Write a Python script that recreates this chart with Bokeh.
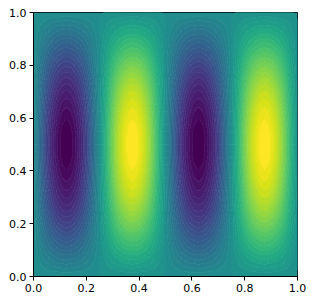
import numpy as np
from bokeh.plotting import figure
from bokeh.embed import file_html
from bokeh.resources import INLINE
from bokeh.palettes import Viridis256, linear_palette
from bokeh.models import PrintfTickFormatter

# Values: horizontal profile across a row (x = k/64)
x_profile = [0.0, -0.2, -0.38, -0.56, -0.71, -0.83, -0.92, -0.98,
             -1.0, -0.98, -0.92, -0.83, -0.71, -0.56, -0.38, -0.2,
             0.0, 0.2, 0.38, 0.56, 0.71, 0.83, 0.92, 0.98,
             1.0, 0.98, 0.92, 0.83, 0.71, 0.56, 0.38, 0.2,
             0.0, -0.2, -0.38, -0.56, -0.71, -0.83, -0.92, -0.98,
             -1.0, -0.98, -0.92, -0.83, -0.71, -0.56, -0.38, -0.2,
             0.0, 0.2, 0.38, 0.56, 0.71, 0.83, 0.92, 0.98,
             1.0, 0.98, 0.92, 0.83, 0.71, 0.56, 0.38, 0.2, 0.0]
# Vertical profile along a column (y = j/40)
y_profile = [0.0, 0.08, 0.16, 0.23, 0.31, 0.38, 0.45, 0.52, 0.59, 0.65,
             0.71, 0.76, 0.81, 0.85, 0.89, 0.92, 0.95, 0.97, 0.99, 1.0, 1.0,
             1.0, 0.99, 0.97, 0.95, 0.92, 0.89, 0.85, 0.81, 0.76, 0.71,
             0.65, 0.59, 0.52, 0.45, 0.38, 0.31, 0.23, 0.16, 0.08, 0.0]
x_ticks = [0.0, 0.2, 0.4, 0.6, 0.8, 1.0]
y_ticks = [0.0, 0.2, 0.4, 0.6, 0.8, 1.0]
n_bands = 40

xs = np.linspace(0, 1, len(x_profile))
ys = np.linspace(0, 1, len(y_profile))
field = np.outer(y_profile, x_profile)
levels = list(np.linspace(-1.0, 1.0, n_bands + 1))

p = figure(width=306, height=295, x_range=(0, 1), y_range=(0, 1),
           toolbar_location=None, output_backend="svg",
           min_border_left=33, min_border_right=9,
           min_border_top=12, min_border_bottom=19)
p.contour(xs, ys, field, levels=levels,
          fill_color=linear_palette(Viridis256, n_bands),
          line_color=linear_palette(Viridis256, n_bands + 1), line_width=1.0)
p.grid.visible = False
p.outline_line_color = "black"
p.outline_line_width = 1
for ax, ticks in ((p.xaxis, x_ticks), (p.yaxis, y_ticks)):
    ax.ticker = ticks
    ax.formatter = PrintfTickFormatter(format="%.1f")
    ax.major_tick_out = 4
    ax.major_tick_in = 0
    ax.minor_tick_out = 0
    ax.minor_tick_in = 0
    ax.major_label_text_font = "DejaVu Sans"
    ax.major_label_text_font_size = "11px"
    ax.major_label_text_color = "black"
    ax.major_label_standoff = 3
    ax.axis_line_color = "black"
    ax.major_tick_line_color = "black"

open("out.html", "w").write(file_html(p, INLINE))
